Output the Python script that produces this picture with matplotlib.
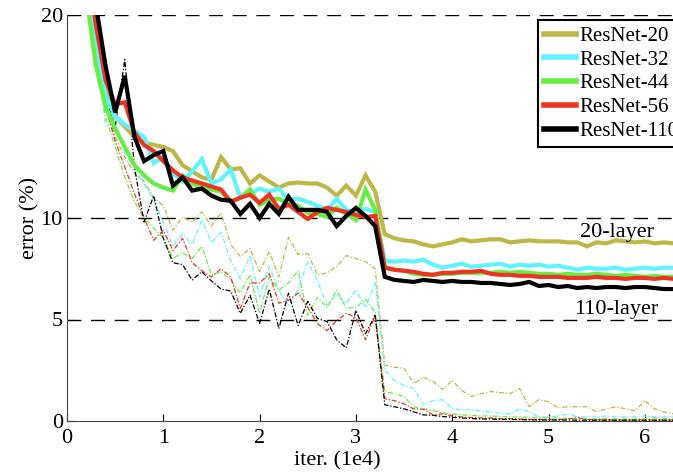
import matplotlib
matplotlib.use("Agg")
import matplotlib.pyplot as plt
import numpy as np

plt.rcParams['font.family'] = ['Liberation Serif', 'DejaVu Serif']

# iterations in units of 1e4, one sample every 1e3 iterations (0.2 .. 6.3)
iters = np.arange(2, 64) / 10.0

labels = ["ResNet-20", "ResNet-32", "ResNet-44", "ResNet-56", "ResNet-110"]
colors = ["#bdb845", "#5ff4ff", "#66ee44", "#ee3322", "#000000"]

# test error (thick lines)
test_20 = [21.5, 18.3, 16.3, 15.0, 14.5, 14.0, 13.7, 13.6, 13.5, 13.3,
           12.6, 12.3, 12.0, 11.9, 13.0, 12.4, 12.45, 11.7, 12.1, 11.8,
           11.5, 11.7, 11.75, 11.7, 11.7, 11.5, 11.1, 11.6, 11.1, 12.1,
           11.3, 9.2, 9.0, 8.9, 8.85, 8.7, 8.6, 8.7, 8.8, 8.95,
           8.85, 8.9, 8.95, 8.95, 8.8, 8.85, 8.9, 8.85, 8.85, 8.85,
           8.8, 8.8, 8.6, 8.8, 8.75, 8.9, 8.85, 8.8, 8.85, 8.75,
           8.8, 8.75]
test_32 = [22.0, 18.5, 16.0, 15.0, 14.6, 14.3, 14.0, 12.7, 13.0, 12.2,
           11.8, 12.3, 12.9, 11.7, 11.9, 12.4, 11.0, 11.2, 11.45, 11.3,
           11.45, 10.9, 10.95, 10.8, 10.6, 10.4, 10.95, 10.4, 10.3, 10.45,
           10.3, 7.9, 7.85, 7.9, 7.85, 7.95, 7.7, 7.56, 7.65, 7.75,
           7.6, 7.65, 7.7, 7.75, 7.6, 7.7, 7.65, 7.7, 7.6, 7.65,
           7.55, 7.45, 7.55, 7.5, 7.5, 7.55, 7.45, 7.5, 7.55, 7.5,
           7.55, 7.55]
test_44 = [21.0, 17.5, 15.5, 14.4, 13.5, 12.6, 12.1, 11.7, 11.5, 11.35,
           12.1, 11.7, 11.5, 11.4, 11.3, 10.8, 11.0, 11.4, 10.65, 10.9,
           10.95, 10.7, 10.6, 10.25, 10.2, 10.05, 10.5, 10.2, 9.9, 11.4,
           10.4, 7.6, 7.45, 7.4, 7.25, 7.2, 7.2, 7.25, 7.25, 7.3,
           7.3, 7.3, 7.3, 7.35, 7.3, 7.35, 7.3, 7.25, 7.25, 7.2,
           7.25, 7.2, 7.2, 7.25, 7.2, 7.15, 7.2, 7.15, 7.1, 7.15,
           7.1, 7.1]
test_56 = [23.0, 19.5, 16.8, 15.6, 15.7, 14.2, 13.6, 13.3, 12.8, 12.35,
           12.0, 11.85, 11.7, 11.55, 11.4, 10.8, 11.0, 11.15, 10.75, 11.15,
           10.45, 10.65, 10.3, 9.95, 10.3, 10.5, 10.4, 10.3, 10.15, 10.05,
           10.1, 7.55, 7.45, 7.4, 7.35, 7.25, 7.2, 7.3, 7.3, 7.35,
           7.35, 7.4, 7.25, 7.2, 7.2, 7.15, 7.15, 7.1, 7.1, 7.1,
           7.05, 7.05, 7.05, 7.1, 7.05, 7.05, 7.0, 7.05, 7.05, 7.0,
           7.05, 7.0]
test_110 = [26.0, 20.5, 17.5, 15.2, 17.0, 14.0, 12.8, 13.1, 13.3, 11.6,
            12.0, 11.35, 11.45, 11.1, 10.9, 10.85, 10.2, 10.7, 10.0, 10.7,
            10.2, 11.05, 10.4, 10.4, 10.4, 10.3, 9.6, 10.1, 10.5, 10.1,
            9.6, 7.1, 6.95, 6.9, 6.85, 6.95, 6.9, 6.85, 6.9, 6.85,
            6.85, 6.8, 6.8, 6.75, 6.7, 6.75, 6.85, 6.65, 6.7, 6.6,
            6.65, 6.55, 6.6, 6.55, 6.6, 6.6, 6.55, 6.6, 6.6, 6.55,
            6.5, 6.5]

# training error (thin dash-dot lines)
train_20 = [23.0, 19.0, 15.5, 14.0, 13.0, 12.2, 11.8, 11.0, 10.6, 9.4,
            10.05, 9.8, 10.3, 9.6, 10.25, 8.7, 8.1, 8.5, 7.35, 8.35,
            7.1, 9.05, 8.2, 8.25, 7.2, 7.3, 7.6, 8.15, 8.0, 7.85,
            7.5, 2.75, 2.65, 2.6, 1.85, 2.15, 1.95, 1.55, 2.0, 1.5,
            1.2, 1.35, 1.45, 1.4, 1.35, 1.6, 0.7, 1.05, 0.95, 0.65,
            0.7, 0.7, 0.7, 0.45, 0.6, 0.7, 0.6, 0.5, 1.0, 0.6,
            0.45, 0.35]
train_32 = [23.0, 18.5, 14.5, 14.8, 13.2, 12.5, 11.7, 10.9, 9.8, 8.6,
            9.2, 8.7, 9.9, 8.8, 9.3, 7.9, 7.0, 8.15, 6.1, 7.6,
            6.45, 5.7, 6.5, 7.85, 6.9, 5.7, 6.2, 5.8, 6.45, 5.6,
            6.8, 2.5, 2.0, 1.75, 1.6, 0.8, 1.0, 1.05, 0.6, 0.55,
            0.55, 0.5, 0.45, 0.4, 0.35, 0.6, 0.45, 0.2, 0.2, 0.25,
            0.35, 0.2, 0.2, 0.2, 0.25, 0.2, 0.2, 0.2, 0.25, 0.2,
            0.2, 0.2]
train_44 = [22.0, 18.0, 15.0, 13.5, 12.0, 10.8, 10.0, 9.5, 9.0, 8.0,
            8.3, 8.0, 8.6, 7.2, 7.35, 6.95, 6.3, 7.2, 5.3, 7.1,
            6.45, 6.8, 7.4, 5.2, 6.1, 5.6, 6.45, 5.55, 5.6, 6.0,
            5.35, 1.45, 1.35, 1.2, 0.7, 0.6, 0.5, 0.4, 0.35, 0.3,
            0.28, 0.25, 0.25, 0.22, 0.2, 0.2, 0.18, 0.15, 0.15, 0.15,
            0.12, 0.12, 0.1, 0.1, 0.12, 0.1, 0.1, 0.1, 0.12, 0.15,
            0.12, 0.12]
train_56 = [23.0, 19.0, 15.5, 13.8, 12.5, 11.2, 10.0, 8.9, 9.4, 8.4,
            9.0, 7.8, 7.4, 7.1, 7.5, 7.1, 5.55, 6.8, 6.8, 7.25,
            5.8, 5.95, 6.3, 5.6, 4.8, 4.45, 4.95, 5.3, 5.1, 4.0,
            5.2, 1.1, 1.0, 0.85, 0.6, 0.58, 0.3, 0.35, 0.25, 0.2,
            0.17, 0.15, 0.15, 0.12, 0.12, 0.1, 0.08, 0.08, 0.07, 0.07,
            0.1, 0.17, 0.07, 0.06, 0.06, 0.05, 0.05, 0.05, 0.05, 0.05,
            0.05, 0.05]
train_110 = [24.0, 20.5, 16.0, 14.5, 17.8, 12.5, 9.8, 11.1, 9.0, 7.8,
             7.7, 6.95, 7.35, 6.9, 6.5, 6.4, 5.3, 6.2, 4.8, 6.5,
             4.55, 6.3, 4.7, 5.9, 5.05, 4.9, 4.0, 3.6, 5.45, 4.3,
             5.2, 0.8, 0.7, 0.6, 0.45, 0.3, 0.28, 0.22, 0.18, 0.15,
             0.12, 0.1, 0.1, 0.08, 0.08, 0.07, 0.06, 0.05, 0.05, 0.05,
             0.05, 0.04, 0.04, 0.04, 0.04, 0.04, 0.04, 0.04, 0.04, 0.04,
             0.04, 0.04]

test_err = [test_20, test_32, test_44, test_56, test_110]
train_err = [train_20, train_32, train_44, train_56, train_110]

W, H = 673, 474
fig = plt.figure(figsize=(W / 100, H / 100), dpi=100)
# axes runs past the right edge, like the cropped original
left, right, bottom, top = 67, 711, 421, 15
ax = fig.add_axes([left / W, 1 - bottom / H, (right - left) / W, (bottom - top) / H])

for tr, c in zip(train_err, colors):
    ax.plot(iters, tr, color=c, lw=0.9, dashes=(4, 1.5, 1, 1.5))

handles = []
for te, c, lab in zip(test_err, colors, labels):
    h, = ax.plot(iters, te, color=c, lw=3.0, label=lab, solid_joinstyle='miter')
    handles.append(h)

for yv in [5, 10, 20]:
    ax.axhline(yv, color='black', lw=1.0, dashes=(10, 7), zorder=0.5)

ax.set_xlim(0, (right - left) / 96.3)
ax.set_ylim(0, 20)
ax.set_xticks([0, 1, 2, 3, 4, 5, 6])
ax.set_yticks([0, 5, 10, 20])
ax.tick_params(direction='in', length=5, width=0.8, labelsize=16)
ax.tick_params(axis='x', pad=6)
ax.tick_params(axis='y', pad=3)
ax.spines['top'].set_visible(False)
ax.spines['right'].set_visible(False)
ax.spines['left'].set_color('#444444')
ax.spines['bottom'].set_color('#444444')

ax.set_xlabel("iter. (1e4)", fontsize=16)
ax.xaxis.set_label_coords((337 - left) / (right - left), -0.075)
ax.set_ylabel("error (%)", fontsize=16, labelpad=1)

ax.text(5.33, 9.3, "20-layer", fontsize=16, va='center', ha='left')
ax.text(5.27, 5.5, "110-layer", fontsize=16, va='center', ha='left')

leg = fig.legend(handles=handles, loc='upper left',
                 bbox_to_anchor=(538 / W, 1 - 20 / H), borderaxespad=0,
                 fontsize=15, handlelength=1.5, handletextpad=0.2,
                 labelspacing=0.2, borderpad=0.3, fancybox=False,
                 framealpha=1, edgecolor='black')
leg.get_frame().set_linewidth(1.5)
for ln in leg.get_lines():
    ln.set_linewidth(4)

fig.savefig("out.png", dpi=100)
